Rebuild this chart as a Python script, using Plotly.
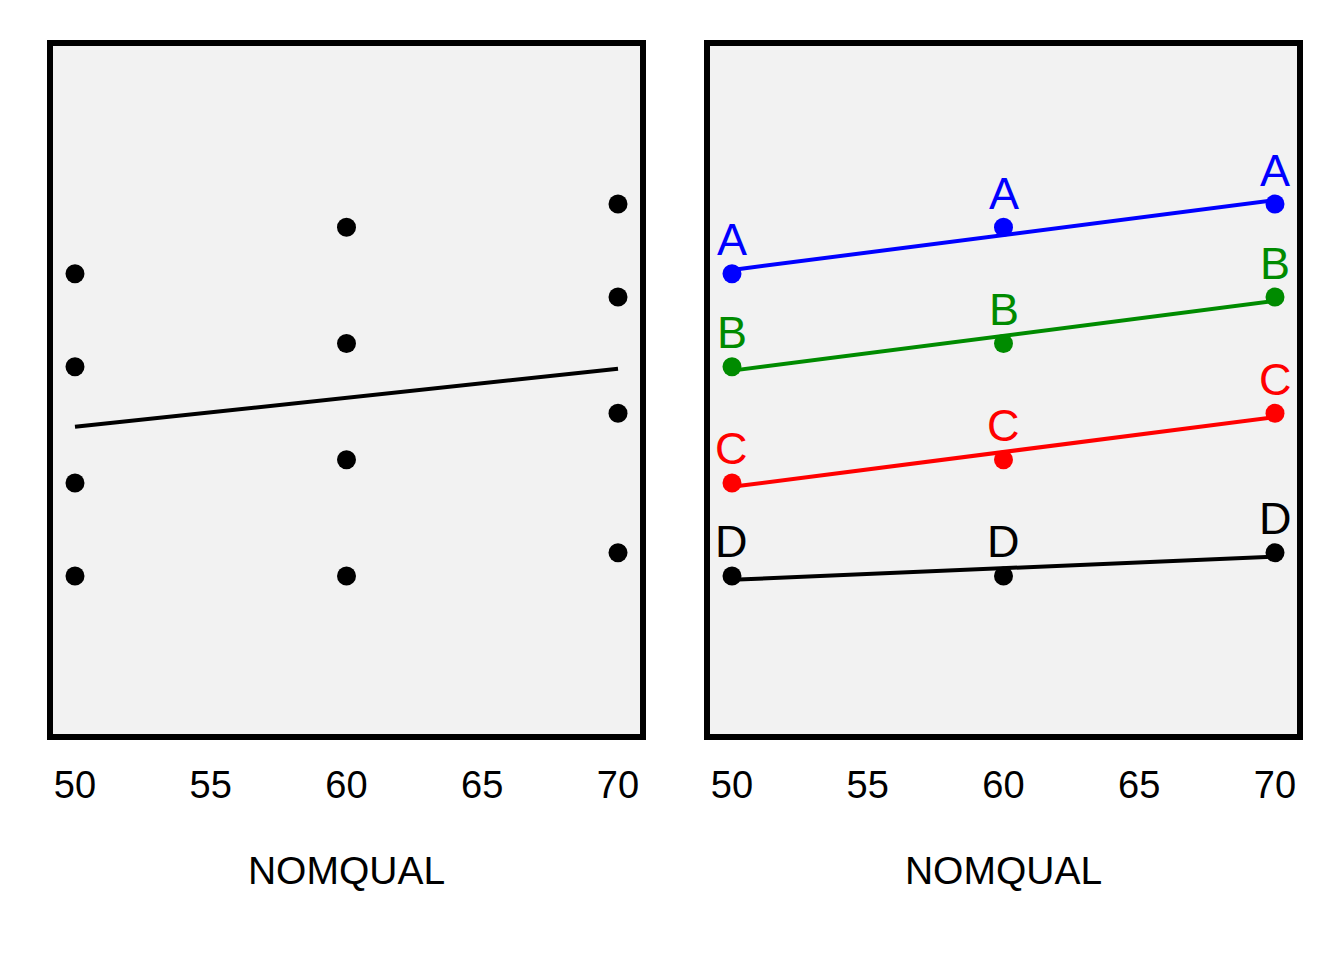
import numpy as np
import plotly.graph_objects as go

nomqual = [50, 60, 70]
groups = ["A", "B", "C", "D"]
values = {
    "A": [13, 15, 16],
    "B": [9, 10, 12],
    "C": [4, 5, 7],
    "D": [0, 0, 1],
}
colors = {"A": "#0000FF", "B": "#008B00", "C": "#FF0000", "D": "#000000"}
tick_vals = [50, 55, 60, 65, 70]

FONT = "Liberation Sans, Arial, sans-serif"
OFF = 8  # default page body margin

fig = go.Figure()

# Left panel: all points + overall OLS fit
all_x = []
all_y = []
for g in groups:
    all_x += nomqual
    all_y += values[g]
b, a = np.polyfit(all_x, all_y, 1)
xs = np.array([min(nomqual), max(nomqual)])
fig.add_trace(go.Scatter(x=xs, y=a + b * xs, mode="lines",
                         line=dict(color="black", width=4),
                         xaxis="x", yaxis="y", showlegend=False))
fig.add_trace(go.Scatter(x=all_x, y=all_y, mode="markers",
                         marker=dict(color="black", size=19),
                         xaxis="x", yaxis="y", showlegend=False))

annotations = []
# Right panel: per-group fits, points, labels
for g in groups:
    bg, ag = np.polyfit(nomqual, values[g], 1)
    fig.add_trace(go.Scatter(x=xs, y=ag + bg * xs, mode="lines",
                             line=dict(color=colors[g], width=4),
                             xaxis="x2", yaxis="y2", showlegend=False))
    fig.add_trace(go.Scatter(x=nomqual, y=values[g], mode="markers",
                             marker=dict(color=colors[g], size=19),
                             xaxis="x2", yaxis="y2", showlegend=False))
    for xv, yv in zip(nomqual, values[g]):
        annotations.append(dict(x=xv, y=yv, xref="x2", yref="y2", text=g,
                                showarrow=False, xanchor="center", yanchor="middle",
                                yshift=34,
                                font=dict(color=colors[g], size=45, family=FONT)))

xr = [49.19, 70.81]
yr = [-6.8, 22.8]
ax_common = dict(range=xr, tickvals=tick_vals, showgrid=False, zeroline=False,
                 showline=True, linecolor="black", linewidth=5.5, mirror=True,
                 ticks="", ticklabelstandoff=13,
                 tickfont=dict(size=38, family=FONT, color="black"),
                 title=dict(text="NOMQUAL", font=dict(size=39, family=FONT, color="black"),
                            standoff=53))
ay_common = dict(range=yr, showgrid=False, zeroline=False, showticklabels=False,
                 showline=True, linecolor="black", linewidth=5.5, mirror=True, ticks="")

ydom = [1 - (734 - OFF) / 960, 1 - (46 - OFF) / 960]
fig.update_layout(
    width=1344, height=960,
    margin=dict(l=0, r=0, t=0, b=0),
    paper_bgcolor="white", plot_bgcolor="#F2F2F2",
    xaxis=dict(domain=[(53 - OFF) / 1344, (640 - OFF) / 1344], anchor="y", **ax_common),
    yaxis=dict(domain=ydom, anchor="x", **ay_common),
    xaxis2=dict(domain=[(710 - OFF) / 1344, (1297 - OFF) / 1344], anchor="y2", **ax_common),
    yaxis2=dict(domain=ydom, anchor="x2", **ay_common),
    annotations=annotations,
)

fig.write_html("out.html")
